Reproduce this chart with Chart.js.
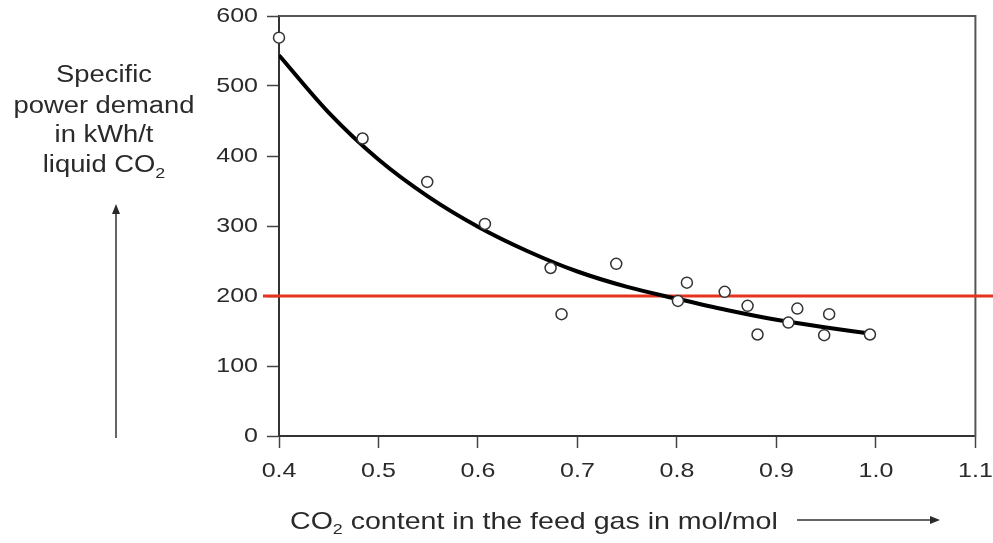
<!DOCTYPE html>
<html lang="en">
<head>
    <meta charset="UTF-8">
    <title>Specific power demand vs CO2 content</title>
    <script src="https://cdn.jsdelivr.net/npm/chart.js"></script>
    <style>
        html, body { margin: 0; padding: 0; background: #fff; }
        .chart-box { width: 993px; height: 543px; }
    </style>
</head>
<body>
    <div class="chart-box"><canvas id="power-chart"></canvas></div>

    <script>
        // measured points (open circles)
        const co2Content = [0.400, 0.484, 0.549, 0.607, 0.673, 0.684, 0.739, 0.801, 0.810, 0.848, 0.871, 0.881, 0.912, 0.921, 0.948, 0.953, 0.994];
        const powerDemand = [569, 425, 363, 303, 240, 174, 246, 193, 219, 206, 186, 145, 162, 182, 144, 174, 145];

        // trend curve
        const curveX = [0.40, 0.45, 0.50, 0.55, 0.60, 0.65, 0.70, 0.75, 0.80, 0.85, 0.90, 0.95, 0.99];
        const curveY = [544, 462, 395, 342, 299, 264, 235, 213, 196, 180, 166, 155, 147];

        const xTicks = [0.4, 0.5, 0.6, 0.7, 0.8, 0.9, 1.0, 1.1];
        const yTicks = [0, 100, 200, 300, 400, 500, 600];
        const threshold = 200;

        const yTitle = ['Specific', 'power demand', 'in kWh/t', 'liquid CO'];
        const xTitle = ' content in the feed gas in mol/mol';

        const FONT = '"Liberation Sans", Arial, Helvetica, sans-serif';
        const SX = 1.19; // source picture is a bit wide

        function txt(ctx, s, x, y, align, size) {
            ctx.save();
            ctx.translate(x, y);
            ctx.scale(SX, 1);
            ctx.font = size + 'px ' + FONT;
            ctx.textAlign = align;
            ctx.textBaseline = 'middle';
            ctx.fillText(s, 0, 0);
            ctx.restore();
        }

        function txtWidth(ctx, s, size) {
            ctx.font = size + 'px ' + FONT;
            return ctx.measureText(s).width * SX;
        }

        const decorations = {
            id: 'decorations',
            beforeDatasetsDraw(chart) {
                const ctx = chart.ctx;
                const ca = chart.chartArea;
                const y = chart.scales.y.getPixelForValue(threshold);
                ctx.save();
                // frame top + right
                ctx.strokeStyle = '#555';
                ctx.lineWidth = 2;
                ctx.beginPath();
                ctx.moveTo(ca.left, ca.top);
                ctx.lineTo(ca.right, ca.top);
                ctx.lineTo(ca.right, ca.bottom + 1);
                ctx.stroke();
                // red limit line
                ctx.strokeStyle = '#e8321e';
                ctx.lineWidth = 3;
                ctx.beginPath();
                ctx.moveTo(ca.left - 16, y);
                ctx.lineTo(chart.width, y);
                ctx.stroke();
                ctx.restore();
            },
            afterDraw(chart) {
                const ctx = chart.ctx;
                const ca = chart.chartArea;
                const xs = chart.scales.x, ys = chart.scales.y;
                ctx.save();
                ctx.fillStyle = '#2a2a2a';

                // tick labels
                ys.ticks.forEach(t => txt(ctx, String(t.value), ca.left - 21, ys.getPixelForValue(t.value), 'right', 21));
                xs.ticks.forEach(t => txt(ctx, t.value.toFixed(1), xs.getPixelForValue(t.value), 471, 'center', 21));

                // y title
                const cx = 104;
                const rows = [76, 107, 136, 166];
                for (let i = 0; i < 3; i++) txt(ctx, yTitle[i], cx, rows[i], 'center', 23);
                const w1 = txtWidth(ctx, yTitle[3], 23), w2 = txtWidth(ctx, '2', 15);
                const lx = cx - (w1 + w2) / 2;
                txt(ctx, yTitle[3], lx, rows[3], 'left', 23);
                txt(ctx, '2', lx + w1, rows[3] + 8, 'left', 15);

                // x title
                const tx = 290, ty = 522;
                const c1 = txtWidth(ctx, 'CO', 24), c2 = txtWidth(ctx, '2', 15);
                txt(ctx, 'CO', tx, ty, 'left', 24);
                txt(ctx, '2', tx + c1, ty + 8, 'left', 15);
                txt(ctx, xTitle, tx + c1 + c2, ty, 'left', 24);

                // arrows
                ctx.strokeStyle = '#333';
                ctx.lineWidth = 1.5;
                ctx.beginPath();
                ctx.moveTo(116, 438);
                ctx.lineTo(116, 212);
                ctx.moveTo(797, 520);
                ctx.lineTo(932, 520);
                ctx.stroke();
                ctx.beginPath();
                ctx.moveTo(116, 204); ctx.lineTo(112, 214); ctx.lineTo(120, 214); ctx.closePath();
                ctx.moveTo(940, 520); ctx.lineTo(930, 516); ctx.lineTo(930, 524); ctx.closePath();
                ctx.fill();
                ctx.restore();
            }
        };

        const ctx = document.getElementById('power-chart').getContext('2d');
        new Chart(ctx, {
            type: 'scatter',
            data: {
                datasets: [{
                    type: 'scatter',
                    data: co2Content.map((x, i) => ({ x: x, y: powerDemand[i] })),
                    pointRadius: 5.5,
                    pointBackgroundColor: '#fff',
                    pointBorderColor: '#333',
                    pointBorderWidth: 1.5,
                    clip: false,
                    order: 1
                }, {
                    type: 'line',
                    data: curveX.map((x, i) => ({ x: x, y: curveY[i] })),
                    borderColor: '#000',
                    borderWidth: 4,
                    pointRadius: 0,
                    fill: false,
                    cubicInterpolationMode: 'monotone',
                    order: 2
                }]
            },
            options: {
                responsive: true,
                maintainAspectRatio: false,
                animation: false,
                layout: { padding: { top: 16, right: 16, left: 0, bottom: 0 } },
                plugins: {
                    legend: { display: false },
                    tooltip: { enabled: false }
                },
                scales: {
                    x: {
                        type: 'linear',
                        min: 0.4,
                        max: 1.1,
                        afterBuildTicks: s => { s.ticks = xTicks.map(v => ({ value: v })); },
                        afterFit: s => { s.height = 107; },
                        ticks: { color: 'rgba(0,0,0,0)', font: { size: 21 } },
                        grid: { drawOnChartArea: false, tickLength: 12, tickColor: '#444', tickWidth: 1.5 },
                        border: { color: '#333', width: 2 }
                    },
                    y: {
                        min: 0,
                        max: 600,
                        afterBuildTicks: s => { s.ticks = yTicks.map(v => ({ value: v })); },
                        afterFit: s => { s.width = 279; },
                        ticks: { color: 'rgba(0,0,0,0)', font: { size: 21 } },
                        grid: { drawOnChartArea: false, tickLength: 12, tickColor: '#444', tickWidth: 1.5 },
                        border: { color: '#333', width: 2 }
                    }
                }
            },
            plugins: [decorations]
        });
    </script>
</body>
</html>
